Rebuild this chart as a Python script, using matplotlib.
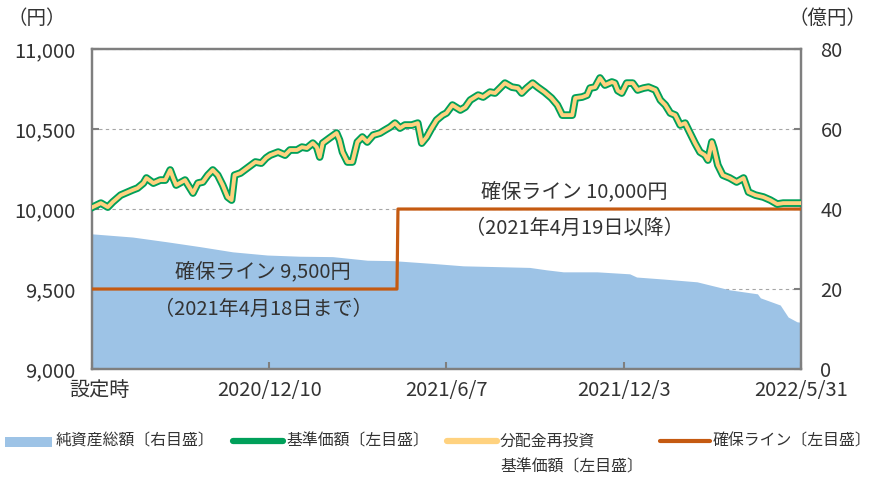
import matplotlib
matplotlib.use('Agg')
import matplotlib.pyplot as plt
from matplotlib.lines import Line2D
from matplotlib.patches import Rectangle
from matplotlib.transforms import ScaledTranslation
import pandas as pd

plt.rcParams['font.family'] = ['Noto Sans CJK JP', 'DejaVu Sans']

# data (days counted from the launch date)
launch = '2020-06-14'
price_days = [0, 9, 16, 21, 29, 36, 41, 46, 52, 55, 62, 69, 74, 79, 82, 85, 94, 97, 102, 107,
              112, 117, 122, 127, 132, 137, 141, 144, 150, 158, 165, 171, 176, 180, 188, 195,
              200, 207, 212, 217, 223, 227, 230, 233, 240, 247, 250, 253, 258, 263, 268, 273,
              278, 284, 291, 296, 301, 306, 311, 316, 323, 329, 333, 338, 343, 348, 354, 358,
              364, 372, 377, 382, 390, 395, 402, 407, 412, 417, 424, 430, 434, 439, 445, 450,
              457, 464, 470, 475, 480, 485, 488, 495, 500, 503, 508, 513, 518, 525, 528, 531,
              535, 540, 546, 551, 557, 562, 569, 574, 579, 584, 589, 594, 599, 604, 609, 614,
              619, 622, 626, 628, 632, 637, 644, 651, 658, 663, 670, 678, 685, 692, 698, 707, 716]
price_values = [10010, 10037, 10012, 10044, 10087, 10106, 10119, 10131, 10162, 10194, 10162,
                10181, 10181, 10244, 10194, 10150, 10181, 10150, 10100, 10162, 10169, 10212,
                10244, 10212, 10150, 10075, 10056, 10212, 10225, 10262, 10294, 10287, 10320,
                10337, 10356, 10337, 10369, 10369, 10387, 10381, 10412, 10387, 10325, 10412,
                10444, 10475, 10431, 10356, 10294, 10294, 10419, 10450, 10419, 10462, 10475,
                10494, 10512, 10537, 10506, 10525, 10525, 10537, 10412, 10450, 10506, 10556,
                10587, 10600, 10650, 10619, 10637, 10681, 10712, 10700, 10731, 10725, 10756,
                10787, 10762, 10756, 10725, 10756, 10787, 10762, 10731, 10694, 10650, 10587,
                10587, 10587, 10694, 10700, 10712, 10756, 10762, 10819, 10775, 10794, 10787,
                10740, 10725, 10787, 10787, 10744, 10756, 10762, 10744, 10681, 10650, 10600,
                10587, 10525, 10537, 10475, 10412, 10356, 10337, 10306, 10419, 10381, 10275,
                10212, 10194, 10169, 10194, 10106, 10087, 10075, 10056, 10031, 10037, 10037, 10037]
nav_days = [0, 41, 76, 109, 142, 177, 210, 243, 278, 304, 344, 375, 409, 442, 459, 476, 510,
            543, 550, 577, 611, 634, 644, 672, 675, 695, 703, 712, 716]
nav_values = [33.8, 33.0, 31.8, 30.6, 29.3, 28.5, 28.2, 28.1, 27.2, 27.1, 26.4, 25.8, 25.6,
              25.4, 24.8, 24.3, 24.3, 23.8, 23.0, 22.5, 21.8, 20.4, 19.8, 18.8, 17.8, 16.0,
              13.0, 11.8, 11.7]
line_dates = ['2020-06-14', '2021-04-18', '2021-04-19', '2022-05-31']
line_values = [9500, 9500, 10000, 10000]
tick_dates = ['2020-06-14', '2020-12-10', '2021-06-07', '2021-12-03', '2022-05-31']
tick_labels = ['設定時', '2020/12/10', '2021/6/7', '2021/12/3', '2022/5/31']

green = '#00A05A'
yellow = '#FFD27F'
orange = '#C55A11'
blue = '#9DC3E6'
gray = '#7F7F7F'

t0 = pd.Timestamp(launch)
price_x = t0 + pd.to_timedelta(price_days, unit='D')
nav_x = t0 + pd.to_timedelta(nav_days, unit='D')

fig = plt.figure(figsize=(8.7, 4.79), dpi=100)
ax = fig.add_axes([0.1057, 0.2296, 0.815, 0.668])
ax2 = ax.twinx()
ax.set_zorder(ax2.get_zorder() + 1)
ax.patch.set_visible(False)

# right axis: net assets area + grid
ax2.fill_between(nav_x, nav_values, 0, color=blue, lw=0, zorder=2)
ax2.set_ylim(0, 80)
ax2.set_yticks([0, 20, 40, 60, 80])
ax2.yaxis.grid(True, color='#A6A6A6', lw=0.8, linestyle=(0, (3, 3)), zorder=1)
ax2.set_axisbelow(True)

# left axis: prices
ax.plot(pd.to_datetime(line_dates), line_values, color=orange, lw=2.3, zorder=3)
ax.plot(price_x, price_values, color=green, lw=5.5, solid_joinstyle='round', zorder=4)
ax.plot(price_x, price_values, color=yellow, lw=2.8, solid_joinstyle='round', zorder=5)
ax.set_ylim(9000, 11000)
ax.set_yticks([9000, 9500, 10000, 10500, 11000])
ax.set_yticklabels(['9,000', '9,500', '10,000', '10,500', '11,000'])
ax.set_xlim(t0, pd.Timestamp('2022-05-31'))
ax.set_xticks(pd.to_datetime(tick_dates))
ax.set_xticklabels(tick_labels)

for a in (ax, ax2):
    for s in a.spines.values():
        s.set_color(gray)
        s.set_linewidth(1.6)
    a.tick_params(direction='in', length=5, width=1.5, color=gray, labelsize=14.5,
                  labelcolor='#333333', pad=12)
ax2.tick_params(pad=14)
ax.tick_params(axis='x', pad=8)
lab0 = ax.get_xticklabels()[0]
lab0.set_transform(lab0.get_transform() + ScaledTranslation(0.07, 0, fig.dpi_scale_trans))

# annotations
tc = '#333333'
ax.text(pd.Timestamp('2020-12-04'), 9605, '確保ライン 9,500円', ha='center', va='center',
        fontsize=14.5, color=tc)
ax.text(pd.Timestamp('2020-12-04'), 9370, '（2021年4月18日まで）', ha='center', va='center',
        fontsize=14.5, color=tc)
ax.text(pd.Timestamp('2021-10-14'), 10110, '確保ライン 10,000円', ha='center', va='center',
        fontsize=14.5, color=tc)
ax.text(pd.Timestamp('2021-10-14'), 9880, '（2021年4月19日以降）', ha='center', va='center',
        fontsize=14.5, color=tc)
fig.text(66 / 870, 1 - 18 / 479, '（円）', ha='right', va='center', fontsize=14, color=tc)
fig.text(867 / 870, 1 - 18 / 479, '（億円）', ha='right', va='center', fontsize=14, color=tc)

# legend drawn by hand
ly = 1 - 441 / 479
ly2 = 1 - 467 / 479
fs = 11.4
fig.add_artist(Rectangle((5 / 870, 1 - 447 / 479), 47 / 870, 10 / 479,
                         transform=fig.transFigure, color=blue, lw=0))
fig.text(56 / 870, ly, '純資産総額〔右目盛〕', ha='left', va='center', fontsize=fs, color=tc)
fig.add_artist(Line2D([233 / 870, 283 / 870], [ly, ly], transform=fig.transFigure,
                      color=green, lw=4.5, solid_capstyle='round'))
fig.text(286 / 870, ly, '基準価額〔左目盛〕', ha='left', va='center', fontsize=fs, color=tc)
fig.add_artist(Line2D([447 / 870, 497 / 870], [ly, ly], transform=fig.transFigure,
                      color=yellow, lw=4.5, solid_capstyle='round'))
fig.text(500 / 870, ly, '分配金再投資', ha='left', va='center', fontsize=fs, color=tc)
fig.text(500 / 870, ly2, '基準価額〔左目盛〕', ha='left', va='center', fontsize=fs, color=tc)
fig.add_artist(Line2D([660 / 870, 710 / 870], [ly, ly], transform=fig.transFigure,
                      color=orange, lw=3, solid_capstyle='round'))
fig.text(713 / 870, ly, '確保ライン〔左目盛〕', ha='left', va='center', fontsize=fs, color=tc)

fig.savefig('out.png', dpi=100)
